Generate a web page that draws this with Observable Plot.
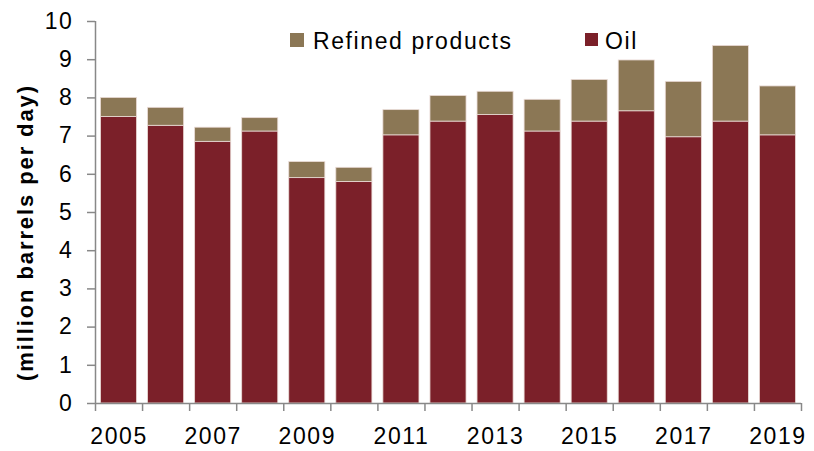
<!DOCTYPE html>
<html><head><meta charset="utf-8">
<script src="https://cdn.jsdelivr.net/npm/d3@7"></script>
<script src="https://cdn.jsdelivr.net/npm/@observablehq/plot@0.6"></script>
<style>
body{margin:0;background:#fff;}
#wrap{position:relative;width:814px;height:451px;font-family:"Liberation Sans",Arial,sans-serif;}
#wrap svg{display:block;}
.leg{position:absolute;font-size:23px;line-height:23px;letter-spacing:1.6px;color:#000;white-space:nowrap;}
.sw{position:absolute;}
g[aria-label="x-axis tick label"] text, g[aria-label="y-axis tick label"] text{letter-spacing:1.6px;}
</style></head><body>
<div id="wrap"></div>
<script>
const years = [2005,2006,2007,2008,2009,2010,2011,2012,2013,2014,2015,2016,2017,2018,2019];
const oil = [7.50,7.27,6.85,7.12,5.90,5.80,7.02,7.38,7.55,7.12,7.38,7.65,6.97,7.38,7.02];
const refined = [0.50,0.47,0.37,0.35,0.42,0.37,0.66,0.67,0.61,0.83,1.09,1.33,1.45,1.98,1.28];
const yTicks = [0,1,2,3,4,5,6,7,8,9,10];
const xLabelYears = [2005,2007,2009,2011,2013,2015,2017,2019];
const seriesNames = ["Refined products","Oil"];
const seriesColors = ["#8B7755","#7B2029"];

const rows = [];
years.forEach((yr,i)=>{
  rows.push({year:yr, series:"Oil", y1:0, y2:oil[i]});
  rows.push({year:yr, series:"Refined products", y1:oil[i], y2:oil[i]+refined[i]});
});
const boundaries = years.map(y=>y-0.5).concat([years[years.length-1]+0.5]);

const chart = Plot.plot({
  width:814, height:451, marginLeft:95, marginRight:13, marginTop:21, marginBottom:48,
  style:{fontFamily:'"Liberation Sans", Arial, sans-serif', fontSize:"23px", color:"#000", background:"#fff"},
  x:{type:"linear", domain:[boundaries[0], boundaries[boundaries.length-1]]},
  y:{domain:[0,10]},
  color:{domain:seriesNames, range:seriesColors},
  marks:[
    Plot.rectY(rows,{x1:d=>d.year-0.5, x2:d=>d.year+0.5, y1:"y1", y2:"y2", fill:"series",
      insetLeft:5.5, insetRight:5.5, stroke:"#eadbd6", strokeWidth:0.8}),
    Plot.ruleX([boundaries[0]], {stroke:"#888", strokeWidth:1.5}),
    Plot.ruleY([0], {stroke:"#888", strokeWidth:1.5}),
    Plot.axisY({ticks:yTicks, tickSize:8, tickPadding:14, stroke:"#888", strokeWidth:1.5, label:null, tickFormat:d=>String(d)}),
    Plot.axisX({ticks:boundaries, tickSize:8, tickFormat:()=>"", stroke:"#888", strokeWidth:1.5, label:null}),
    Plot.axisX({ticks:xLabelYears, tickSize:0, tickPadding:24, tickFormat:d=>String(d), label:null}),
    Plot.text(["(million barrels per day)"], {text:d=>d, frameAnchor:"left", rotate:-90, dx:-70, dy:20,
      fontWeight:"bold", fontSize:22, textAnchor:"middle", lineAnchor:"middle", fill:"#000"})
  ]
});
d3.select(chart).selectAll("text").filter(function(){return this.textContent.startsWith("(million");})
  .style("letter-spacing","1.9px");

const wrap = document.getElementById("wrap");
wrap.appendChild(chart);

const legendItems = [
  {name:seriesNames[0], color:seriesColors[0], sx:290, tx:313, size:14},
  {name:seriesNames[1], color:seriesColors[1], sx:585, tx:605, size:13}
];
legendItems.forEach(it=>{
  const sw = document.createElement("div");
  sw.className="sw";
  sw.style.left=it.sx+"px"; sw.style.top="32.5px";
  sw.style.width=it.size+"px"; sw.style.height=it.size+"px";
  sw.style.background=it.color;
  wrap.appendChild(sw);
  const t = document.createElement("div");
  t.className="leg";
  t.style.left=it.tx+"px"; t.style.top="29.5px";
  t.textContent=it.name;
  wrap.appendChild(t);
});
</script>
</body></html>
